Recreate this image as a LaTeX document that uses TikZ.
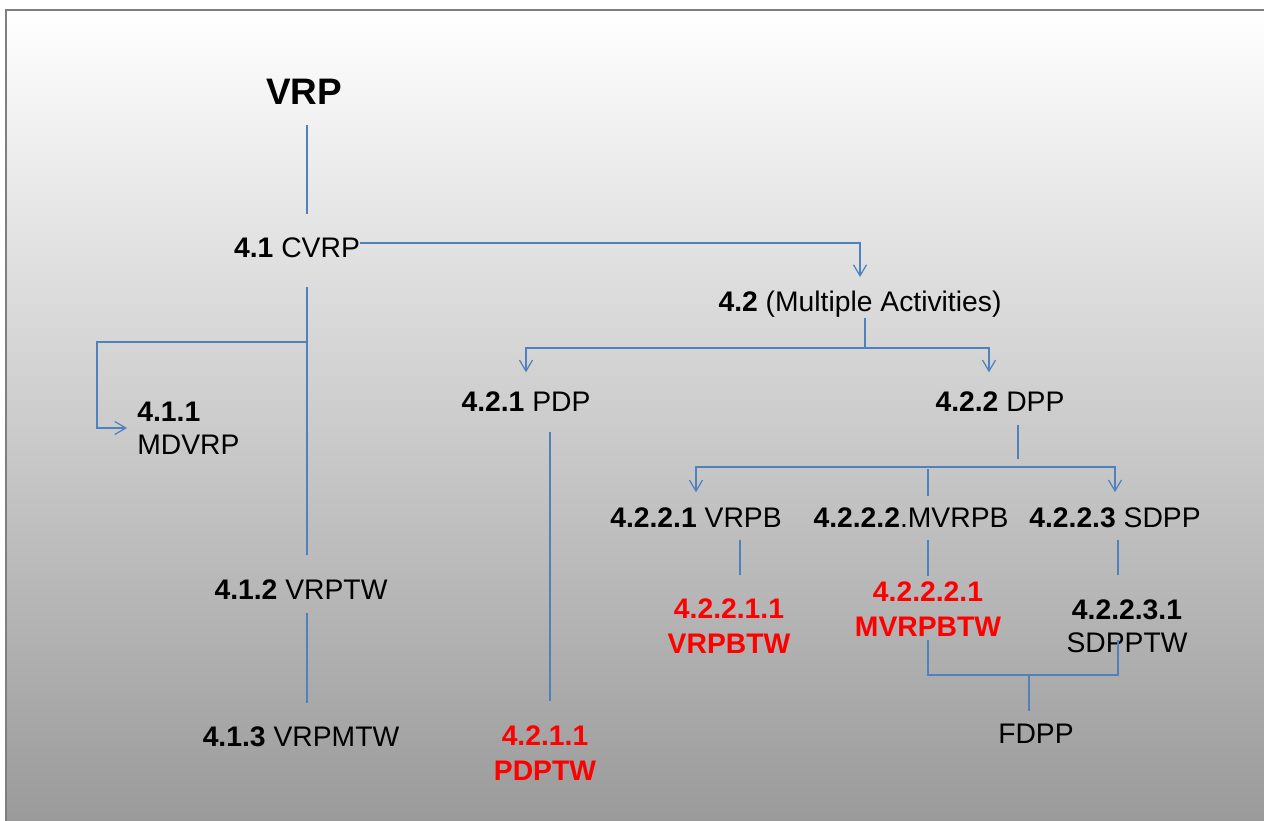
\documentclass[tikz,border=0pt]{standalone}
\usepackage{fontspec}
\setmainfont{Liberation Sans}
\usetikzlibrary{arrows.meta}
\definecolor{linkblue}{HTML}{4F81BD}
\definecolor{hotred}{HTML}{FF0000}
\definecolor{framegray}{HTML}{7F7F7F}
\tikzset{item/.style={inner sep=0pt,align=center,font=\fontsize{16.1}{19}\selectfont},hot/.style={item,text=hotred,font=\fontsize{16.1}{19.5}\selectfont\bfseries},link/.style={draw=linkblue,line width=.7pt},arrowlink/.style={link,-{Straight Barb[length=2.2mm,width=2.6mm]}}}

\begin{document}
\begin{tikzpicture}[x=.02cm,y=-.02cm]
\useasboundingbox (0,0) rectangle (1264,821);
\clip (0,0) rectangle (1264,821);
\fill[white] (0,0) rectangle (1264,821);
\shade[top color=white,middle color=black!15,bottom color=black!40] (6,10) rectangle (1276,832);
\draw[framegray,line width=.55mm] (6,10) rectangle (1276,832);
\node[item,font=\fontsize{21}{25}\selectfont\bfseries] (vrp) at (304,92) {VRP};
\node[item] (cvrp) at (297,248) {\textbf{4.1} CVRP};
\node[item] (multi) at (860,304) {\textbf{4.2} (Multiple Activities)};
\node[item,align=left,anchor=west] (mdvrp) at (137,428) {\textbf{4.1.1}\\MDVRP};
\node[item] (pdp) at (526,402) {\textbf{4.2.1} PDP};
\node[item] (dpp) at (1000,402) {\textbf{4.2.2} DPP};
\node[item] (vrptw) at (301,590) {\textbf{4.1.2} VRPTW};
\node[item] (vrpmtw) at (301,737) {\textbf{4.1.3} VRPMTW};
\node[hot] (pdptw) at (545,753) {4.2.1.1\\PDPTW};
\node[item] (vrpb) at (696,518) {\textbf{4.2.2.1} VRPB};
\node[item] (mvrpb) at (911,518) {\textbf{4.2.2.2}.MVRPB};
\node[item] (sdpp) at (1115,518) {\textbf{4.2.2.3} SDPP};
\node[hot] (vrpbtw) at (729,626) {4.2.2.1.1\\VRPBTW};
\node[hot] (mvrpbtw) at (928,609) {4.2.2.2.1\\MVRPBTW};
\node[item] (sdpptw) at (1127,626) {\textbf{4.2.2.3.1}\\SDPPTW};
\node[item] (fdpp) at (1036,734) {FDPP};
\coordinate (trunk) at (307,342);\coordinate (mdturn) at (97,342);\coordinate (mbus) at (865,348);\coordinate (dbus) at (928,467);\coordinate (fbus) at (1029,675);
\draw[link,shorten <=4mm,shorten >=4.7mm] (vrp.south -| trunk)--(cvrp.north -| trunk);
\draw[link,shorten <=5.7mm,shorten >=4.9mm] (cvrp.south -| trunk)--(vrptw.north -| trunk);
\draw[link,shorten <=2.5mm,shorten >=4.7mm] (vrptw.south -| trunk)--(vrpmtw.north -| trunk);
\draw[arrowlink,shorten >=2mm] (trunk)--(mdturn)|-(mdvrp.west);
\draw[arrowlink,shorten >=2.7mm] ([yshift=1mm]cvrp.east)-|(multi.north);
\draw[link] (mbus |- multi.south)--(mbus);
\draw[arrowlink,shorten >=3.9mm] (mbus)-|(pdp.north);\draw[arrowlink,shorten >=3.9mm] (mbus)-|([xshift=-2.2mm]dpp.north);
\draw[link,shorten <=3.9mm,shorten >=5mm] ([xshift=4.8mm]pdp.south)--([xshift=4.8mm]pdp.south |- pdptw.north);
\draw[link,shorten <=2.5mm,shorten >=1.6mm] ([xshift=3.6mm]dpp.south)--([xshift=3.6mm]dpp.south |- dbus);
\draw[arrowlink,shorten >=3.1mm] (dbus)-|(vrpb.north);\draw[arrowlink,shorten >=3.1mm] (dbus)-|(sdpp.north);
\draw[link,shorten <=.4mm,shorten >=2.3mm] (dbus)--(dbus |- mvrpb.north);
\draw[link,shorten <=2.3mm,shorten >=4.8mm] ([xshift=8.8mm]vrpb.south)--([xshift=8.8mm]vrpb.south |- vrpbtw.north);
\draw[link,shorten <=2.3mm,shorten >=1.2mm] (dbus |- mvrpb.south)--(dbus |- mvrpbtw.north);
\draw[link,shorten <=2.3mm,shorten >=4.8mm] ([xshift=.6mm]sdpp.south)--([xshift=.6mm]sdpp.south |- sdpptw.north);
\draw[link,shorten <=.8mm] (dbus |- mvrpbtw.south)|-(fbus);\draw[link] (fbus)-|([xshift=-1.8mm,yshift=2.6mm]sdpptw.south);
\draw[link,shorten >=2.5mm] (fbus)--(fbus |- fdpp.north);
\end{tikzpicture}
\end{document}
